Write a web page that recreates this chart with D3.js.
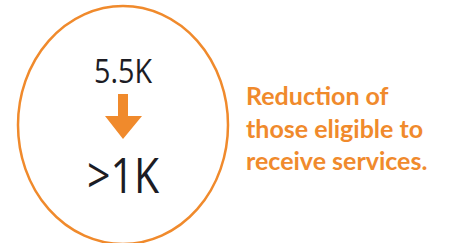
<!DOCTYPE html>
<html lang="en">
<head>
  <meta charset="UTF-8">
  <title>Eligibility Reduction</title>
  <script src="https://d3js.org/d3.v7.min.js"></script>
  <style>
    body {
      margin: 0;
      background: #fff;
    }
  </style>
</head>
<body>

<div class="chart"></div>

<script>
    // values shown in the circle, before and after
    const values = ['5.5K', '>1K'];
    const valueSizes = [33, 50];
    const valueWidths = [58, 72];
    // caption next to the circle
    const captionLines = ['Reduction of', 'those eligible to', 'receive services.'];

    const width = 449, height = 243;
    const orange = '#F08A2C';

    const svg = d3.select('.chart')
      .append('svg')
      .attr('width', width)
      .attr('height', height);

    // ring
    svg.append('ellipse')
      .attr('cx', 123)
      .attr('cy', 125)
      .attr('rx', 105)
      .attr('ry', 119)
      .attr('fill', 'none')
      .attr('stroke', orange)
      .attr('stroke-width', 2.5);

    // before / after numbers
    const y = d3.scalePoint().domain(values).range([83, 193]);
    svg.selectAll('.val')
      .data(values)
      .enter().append('text')
      .attr('class', 'val')
      .attr('x', 123)
      .attr('y', d => y(d))
      .attr('text-anchor', 'middle')
      .attr('textLength', (d, i) => valueWidths[i])
      .attr('lengthAdjust', 'spacingAndGlyphs')
      .style('font-family', "'Open Sans', sans-serif")
      .style('font-weight', 400)
      .style('font-size', (d, i) => valueSizes[i] + 'px')
      .style('fill', '#1c1c24')
      .text(d => d);

    // arrow between them
    svg.append('path')
      .attr('d', 'M118,94 H128 V116 H142 L123,139 L105,116 H118 Z')
      .attr('fill', orange);

    // caption
    svg.append('g')
      .selectAll('text')
      .data(captionLines)
      .enter().append('text')
      .attr('x', 246)
      .attr('y', (d, i) => 105 + i * 32.5)
      .style('font-family', 'Lato, sans-serif')
      .style('font-weight', 700)
      .style('font-size', '25px')
      .style('fill', orange)
      .text(d => d);
</script>
</body>
</html>
